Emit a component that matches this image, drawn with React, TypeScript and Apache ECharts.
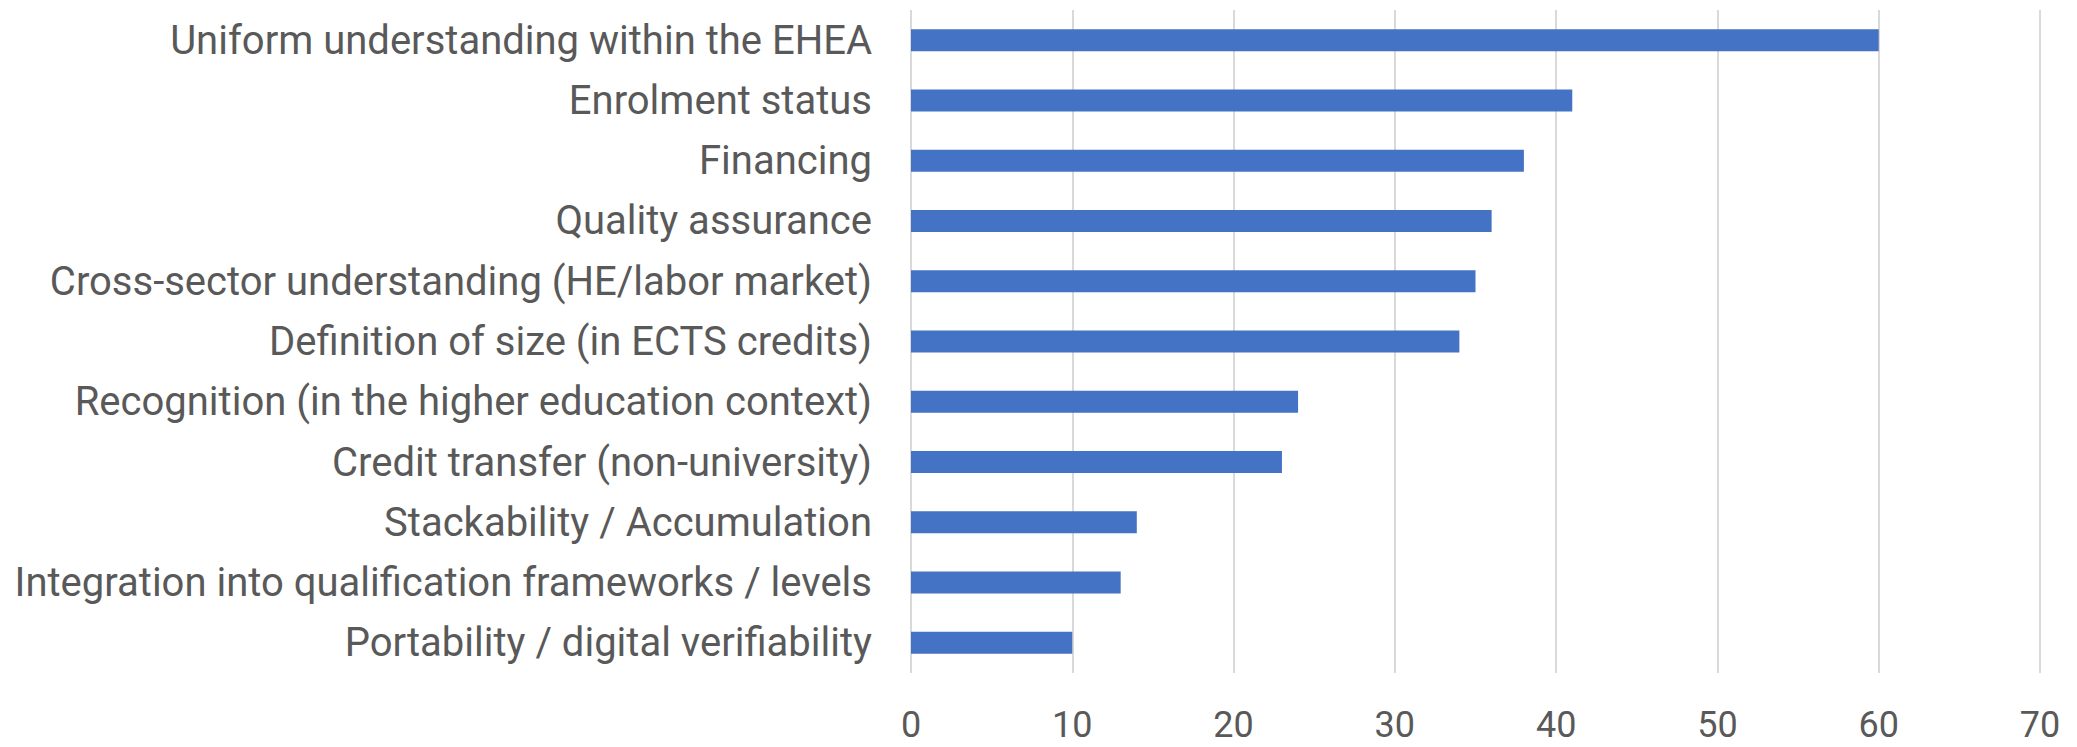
import React, { useEffect, useRef } from "react";
import * as echarts from "echarts";

const categories = [
  "Uniform understanding within the EHEA",
  "Enrolment status",
  "Financing",
  "Quality assurance",
  "Cross-sector understanding (HE/labor market)",
  "Definition of size (in ECTS credits)",
  "Recognition (in the higher education context)",
  "Credit transfer (non-university)",
  "Stackability / Accumulation",
  "Integration into qualification frameworks / levels",
  "Portability / digital verifiability",
];
const values = [60, 41, 38, 36, 35, 34, 24, 23, 14, 13, 10];
const xTicks = [0, 10, 20, 30, 40, 50, 60, 70];

export default function App() {
  const ref = useRef<HTMLDivElement>(null);
  useEffect(() => {
    if (!ref.current) return;
    const chart = echarts.init(ref.current, null, { renderer: "svg" });
    chart.setOption({
      animation: false,
      backgroundColor: "#ffffff",
      grid: { left: 903, right: 37, top: 2, bottom: 74, containLabel: false },
      xAxis: {
        type: "value",
        min: xTicks[0],
        max: xTicks[xTicks.length - 1],
        interval: 10,
        axisLine: { show: false },
        axisTick: { show: false },
        splitLine: { show: true, lineStyle: { color: "#d9d9d9", width: 2 } },
        axisLabel: {
          color: "#595959",
          fontSize: 36,
          lineHeight: 30,
          fontFamily: "Roboto",
          margin: 37,
        },
      },
      yAxis: {
        type: "category",
        inverse: true,
        data: categories,
        axisLine: { show: false },
        axisTick: { show: false },
        axisLabel: {
          color: "#595959",
          fontSize: 40,
          fontFamily: "Roboto",
          margin: 39,
        },
      },
      series: [
        {
          type: "bar",
          data: values,
          barWidth: 22,
          itemStyle: { color: "#4472C4" },
        },
      ],
    });
    return () => chart.dispose();
  }, []);
  return <div ref={ref} style={{ width: 2069, height: 739 }} />;
}
